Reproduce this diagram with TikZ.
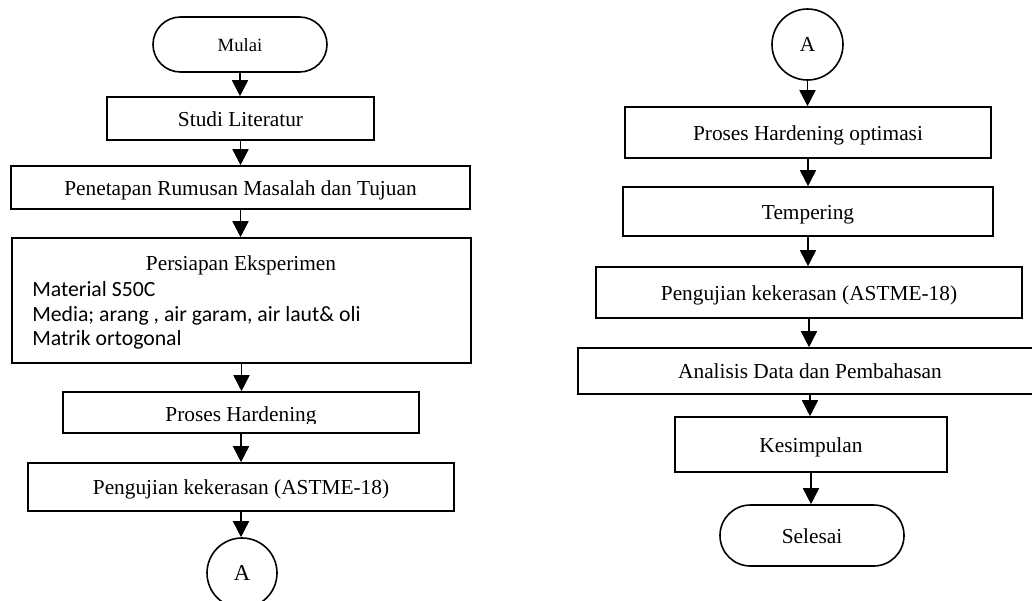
\documentclass[tikz,border=0pt]{standalone}
\usepackage{fontspec}
\setmainfont{Liberation Serif}
\newfontfamily\calibrifont{Carlito}
\usetikzlibrary{arrows.meta}
\begin{document}
\begin{tikzpicture}[x=0.75pt,y=-0.75pt,
  every node/.style={inner sep=0pt, font=\fontsize{16pt}{19pt}\selectfont},
  box/.style={draw, line width=1.2pt, rectangle, text height=11.5pt, text depth=0pt},
  term/.style={draw, line width=1.2pt, rectangle, text height=11.5pt, text depth=0pt},
  conn/.style={draw, line width=1.2pt, circle, text height=11.5pt, text depth=0pt, font=\fontsize{17pt}{20pt}\selectfont},
  arr/.style={line width=1.2pt, -{Triangle[length=12pt,width=12pt]}},
  sans/.style={font=\calibrifont\fontsize{16.3pt}{19pt}\selectfont, anchor=base west}
]
\useasboundingbox (0,0) rectangle (1032,600);
\clip (0,0) rectangle (1032,600);
\fill[white] (0,0) rectangle (1032,600);

% ---------- left column ----------
\node[term, minimum width=130.5pt, minimum height=41.25pt, rounded corners=20.6pt,
      font=\fontsize{14pt}{17pt}\selectfont, text height=10pt] (mulai) at (240,44.5) {Mulai};
\node[box, minimum width=200.25pt, minimum height=32.25pt] (studi) at (240.5,118.5) {Studi Literatur};
\node[box, minimum width=344.25pt, minimum height=32.25pt] (tetap) at (240.5,187.5) {Penetapan Rumusan Masalah dan Tujuan};
\node[box, minimum width=344.25pt, minimum height=93.75pt] (prep) at (241.5,300.5) {};
\node[anchor=base] (prephead) at (241,270) {Persiapan Eksperimen};
\node[sans] (m1) at (32,296) {Material S50C};
\node[sans] (m2) at (32,321) {Media; arang , air garam, air laut\& oli};
\node[sans] (m3) at (32,345) {Matrik ortogonal};
\node[box, minimum width=267pt, minimum height=30.75pt] (ph) at (241,412.5) {};
\begin{scope}
  \clip (63,392) rectangle (419,423);
  \node[anchor=base] (phtext) at (241,421.5) {Proses Hardening};
\end{scope}
\node[box, minimum width=319.5pt, minimum height=36pt] (uji) at (241,487) {Pengujian kekerasan (ASTME-18)};
\node[conn, minimum size=52.5pt] (a1) at (242,573) {A};

\draw[arr] (mulai.south) -- (mulai.south |- studi.north);
\draw[arr] (studi.south) -- (studi.south |- tetap.north);
\draw[arr] (tetap.south) -- (tetap.south |- prep.north);
\draw[arr] (prep.south) -- (prep.south |- ph.north);
\draw[arr] (ph.south) -- (ph.south |- uji.north);
\draw[arr] (uji.south) -- (uji.south |- a1.north);

% ---------- right column ----------
\node[conn, minimum size=53.25pt, font=\fontsize{16pt}{19pt}\selectfont, text height=10.5pt] (a2) at (807.5,44.5) {A};
\node[box, minimum width=274.5pt, minimum height=38.25pt] (pho) at (808,132.5) {Proses Hardening optimasi};
\node[box, minimum width=277.5pt, minimum height=36.75pt] (temp) at (808,211.5) {Tempering};
\node[box, minimum width=319.5pt, minimum height=38.25pt] (uji2) at (809,292.5) {Pengujian kekerasan (ASTME-18)};
\node[box, minimum width=348pt, minimum height=34.5pt] (anal) at (810,371) {Analisis Data dan Pembahasan};
\node[box, minimum width=204pt, minimum height=41.25pt] (kes) at (811,444.5) {Kesimpulan};
\node[term, minimum width=138pt, minimum height=45.75pt, rounded corners=22.8pt] (sel) at (812,535.5) {Selesai};

\draw[arr] (a2.south) -- (a2.south |- pho.north);
\draw[arr] (pho.south) -- (pho.south |- temp.north);
\draw[arr] (temp.south) -- (temp.south |- uji2.north);
\draw[arr] (uji2.south) -- (uji2.south |- anal.north);
\draw[arr] (anal.south) -- (anal.south |- kes.north);
\draw[arr] (kes.south) -- (kes.south |- sel.north);
\end{tikzpicture}
\end{document}
